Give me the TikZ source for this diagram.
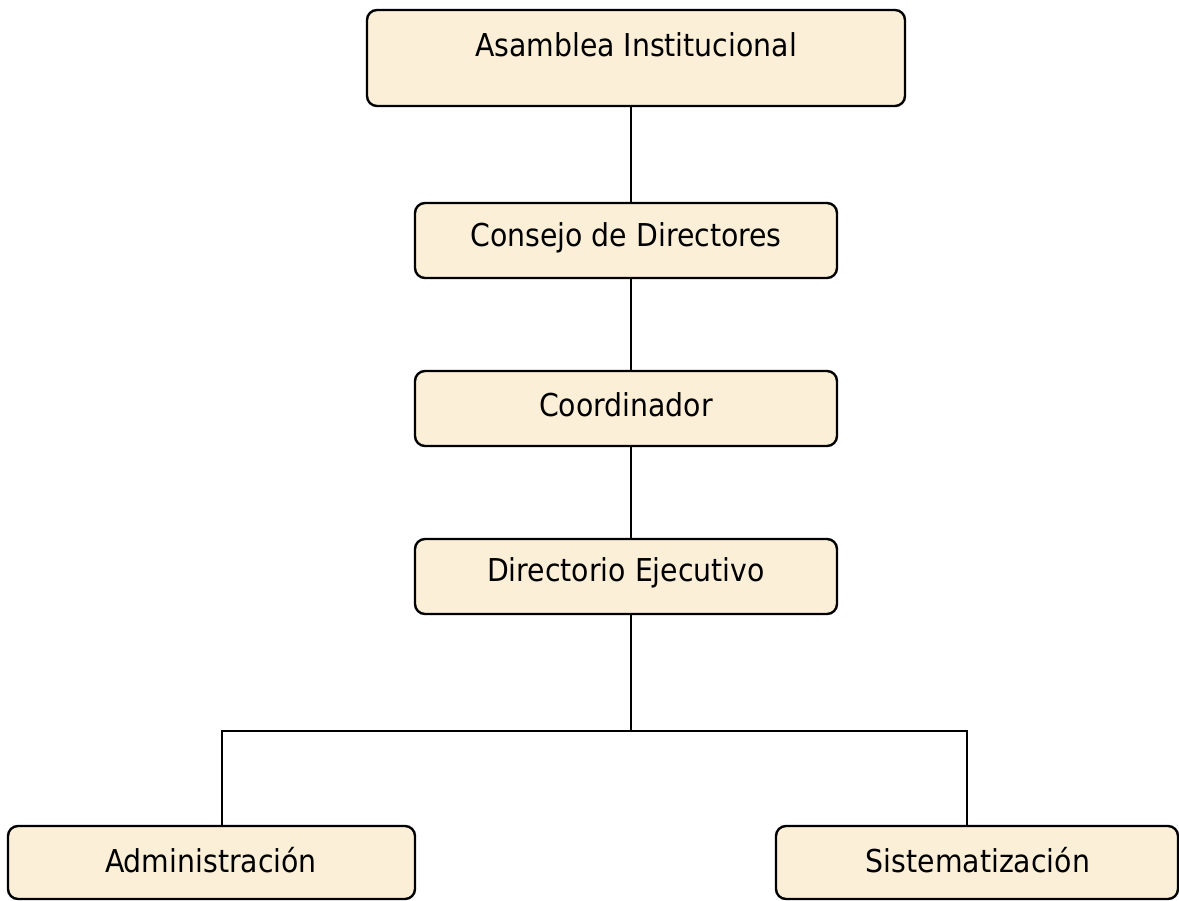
\documentclass[tikz,border=0pt]{standalone}
\usepackage{fontspec}
\setmainfont{DejaVu Sans Condensed}
\definecolor{parch}{RGB}{252,239,216}
\begin{document}
\begin{tikzpicture}[x=1pt,y=-1pt,
  orgbox/.style={draw=black, line width=2.4pt, rounded corners=10pt, fill=parch, inner sep=0pt},
  conn/.style={draw=black, line width=1.4pt},
  lbl/.style={font=\fontsize{31.5}{36}\selectfont, text=black}]
\useasboundingbox (0,0) rectangle (1179,901);
\fill[white] (0,0) rectangle (1179,901);
% boxes
\draw[orgbox] (367,10) rectangle (905,106);
\node[lbl] (a) at (636,45) {Asamblea Institucional};
\draw[orgbox] (415,203) rectangle (837,278);
\node[lbl] (b) at (626,238) {Consejo de Directores};
\draw[orgbox] (415,371) rectangle (837,446);
\node[lbl] (c) at (626,405) {Coordinador};
\draw[orgbox] (415,539) rectangle (837,614);
\node[lbl] (d) at (626,573) {Directorio Ejecutivo};
\draw[orgbox] (8,826) rectangle (415,899);
\node[lbl] (e) at (211,860) {Administración};
\draw[orgbox] (776,826) rectangle (1178,899);
\node[lbl] (f) at (978,860) {Sistematización};
% connectors
\coordinate (aB) at (631,106);
\coordinate (bT) at (631,203);
\coordinate (bB) at (631,278);
\coordinate (cT) at (631,371);
\coordinate (cB) at (631,446);
\coordinate (dT) at (631,539);
\coordinate (dB) at (631,614);
\coordinate (j) at (631,731);
\coordinate (eT) at (222,826);
\coordinate (fT) at (967,826);
\draw[conn] (aB) -- (bT);
\draw[conn] (bB) -- (cT);
\draw[conn] (cB) -- (dT);
\draw[conn] (dB) -- (j);
\draw[conn] (eT) |- (j) -| (fT);
\end{tikzpicture}
\end{document}
